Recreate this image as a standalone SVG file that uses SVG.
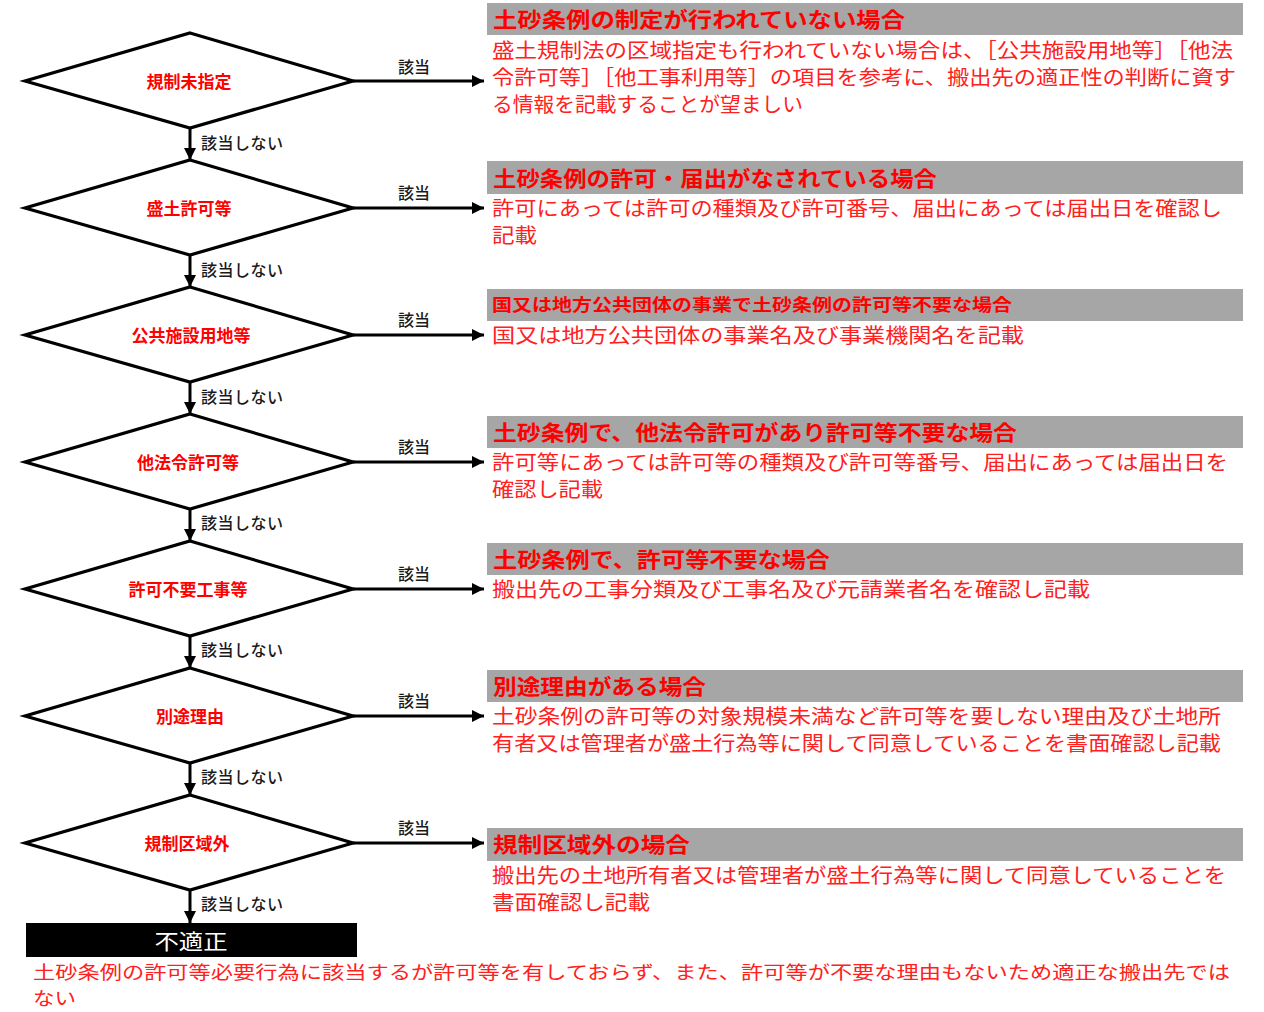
<svg xmlns="http://www.w3.org/2000/svg" width="1264" height="1012" viewBox="0 0 1264 1012">
<defs>
<marker id="ah" viewBox="0 0 10 10" refX="10" refY="5" markerWidth="4.2" markerHeight="4" markerUnits="strokeWidth" orient="auto">
<path d="M0,0 L10,5 L0,10 z" fill="#000"/>
</marker>
<style>
.dia{fill:#fff;stroke:#000;stroke-width:3.2;stroke-linejoin:miter}
.conn{stroke:#000;stroke-width:3;fill:none;marker-end:url(#ah)}
.dl{font-family:"Noto Sans CJK JP","Noto Sans",sans-serif;font-size:17px;font-weight:bold;fill:#ff0000;text-anchor:middle}
.lb{font-family:"Noto Sans CJK JP","Noto Sans",sans-serif;font-size:16px;font-weight:500;fill:#1a1a1a}
.bar{fill:#a6a6a6}
.hd{font-family:"Noto Sans CJK JP","Noto Sans",sans-serif;font-size:21px;font-weight:bold;fill:#ff0000}
.hs{font-family:"Noto Sans CJK JP","Noto Sans",sans-serif;font-size:17px;font-weight:bold;fill:#ff0000}
.bd{font-family:"Noto Sans CJK JP","Noto Sans",sans-serif;font-size:20px;fill:#ff2020}
.bt{font-family:"Noto Sans CJK JP","Noto Sans",sans-serif;font-size:18.5px;fill:#ff2020}
.ng{font-family:"Noto Sans CJK JP","Noto Sans",sans-serif;font-size:21px;fill:#fff;text-anchor:middle}
</style>
</defs>
<rect width="1264" height="1012" fill="#fff"/>

<g id="connectors">
<line class="conn" x1="353" y1="81" x2="484" y2="81"/>
<line class="conn" x1="353" y1="208" x2="484" y2="208"/>
<line class="conn" x1="353" y1="335" x2="484" y2="335"/>
<line class="conn" x1="353" y1="462" x2="484" y2="462"/>
<line class="conn" x1="353" y1="589" x2="484" y2="589"/>
<line class="conn" x1="353" y1="716" x2="484" y2="716"/>
<line class="conn" x1="353" y1="843" x2="484" y2="843"/>
<line class="conn" x1="190" y1="128" x2="190" y2="160"/>
<line class="conn" x1="190" y1="255" x2="190" y2="287"/>
<line class="conn" x1="190" y1="382" x2="190" y2="414"/>
<line class="conn" x1="190" y1="509" x2="190" y2="541"/>
<line class="conn" x1="190" y1="636" x2="190" y2="668"/>
<line class="conn" x1="190" y1="763" x2="190" y2="795"/>
<line class="conn" x1="190" y1="890" x2="190" y2="923"/>
<text class="lb" x="398" y="73">該当</text>
<text class="lb" x="398" y="199">該当</text>
<text class="lb" x="398" y="326">該当</text>
<text class="lb" x="398" y="453">該当</text>
<text class="lb" x="398" y="580">該当</text>
<text class="lb" x="398" y="707">該当</text>
<text class="lb" x="398" y="834">該当</text>
<text class="lb" x="201" y="149" textLength="82">該当しない</text>
<text class="lb" x="201" y="276" textLength="82">該当しない</text>
<text class="lb" x="201" y="403" textLength="82">該当しない</text>
<text class="lb" x="201" y="529" textLength="82">該当しない</text>
<text class="lb" x="201" y="656" textLength="82">該当しない</text>
<text class="lb" x="201" y="783" textLength="82">該当しない</text>
<text class="lb" x="201" y="910" textLength="82">該当しない</text>
</g>

<g id="d1"><polygon class="dia" points="190,33 353,81 190,128 25,81"/><text class="dl" x="189" y="88">規制未指定</text></g>
<g id="d2"><polygon class="dia" points="190,160 353,208 190,255 25,208"/><text class="dl" x="189" y="215">盛土許可等</text></g>
<g id="d3"><polygon class="dia" points="190,287 353,335 190,382 25,335"/><text class="dl" x="191" y="342">公共施設用地等</text></g>
<g id="d4"><polygon class="dia" points="190,414 353,462 190,509 25,462"/><text class="dl" x="188" y="469">他法令許可等</text></g>
<g id="d5"><polygon class="dia" points="190,541 353,589 190,636 25,589"/><text class="dl" x="188" y="596">許可不要工事等</text></g>
<g id="d6"><polygon class="dia" points="190,668 353,716 190,763 25,716"/><text class="dl" x="190" y="723">別途理由</text></g>
<g id="d7"><polygon class="dia" points="190,795 353,843 190,890 25,843"/><text class="dl" x="187" y="850">規制区域外</text></g>

<g id="r1">
<rect class="bar" x="487" y="3" width="756" height="32"/>
<text class="hd" x="493" y="27" textLength="412" lengthAdjust="spacingAndGlyphs">土砂条例の制定が行われていない場合</text>
<text class="bd" x="492" y="58" textLength="741" lengthAdjust="spacingAndGlyphs">盛土規制法の区域指定も行われていない場合は、［公共施設用地等］［他法</text>
<text class="bd" x="492" y="85" textLength="744" lengthAdjust="spacingAndGlyphs">令許可等］［他工事利用等］の項目を参考に、搬出先の適正性の判断に資す</text>
<text class="bd" x="492" y="112" textLength="311" lengthAdjust="spacingAndGlyphs">る情報を記載することが望ましい</text>
</g>
<g id="r2">
<rect class="bar" x="487" y="161" width="756" height="33"/>
<text class="hd" x="493" y="186" textLength="444" lengthAdjust="spacingAndGlyphs">土砂条例の許可・届出がなされている場合</text>
<text class="bd" x="492" y="216" textLength="730" lengthAdjust="spacingAndGlyphs">許可にあっては許可の種類及び許可番号、届出にあっては届出日を確認し</text>
<text class="bd" x="492" y="243" textLength="45" lengthAdjust="spacingAndGlyphs">記載</text>
</g>
<g id="r3">
<rect class="bar" x="487" y="289" width="756" height="32"/>
<text class="hs" x="492" y="311" textLength="520" lengthAdjust="spacingAndGlyphs">国又は地方公共団体の事業で土砂条例の許可等不要な場合</text>
<text class="bd" x="492" y="343" textLength="532" lengthAdjust="spacingAndGlyphs">国又は地方公共団体の事業名及び事業機関名を記載</text>
</g>
<g id="r4">
<rect class="bar" x="487" y="416" width="756" height="32"/>
<text class="hd" x="493" y="440" textLength="524" lengthAdjust="spacingAndGlyphs">土砂条例で、他法令許可があり許可等不要な場合</text>
<text class="bd" x="492" y="470" textLength="736" lengthAdjust="spacingAndGlyphs">許可等にあっては許可等の種類及び許可等番号、届出にあっては届出日を</text>
<text class="bd" x="492" y="497" textLength="111" lengthAdjust="spacingAndGlyphs">確認し記載</text>
</g>
<g id="r5">
<rect class="bar" x="487" y="543" width="756" height="32"/>
<text class="hd" x="493" y="567" textLength="337" lengthAdjust="spacingAndGlyphs">土砂条例で、許可等不要な場合</text>
<text class="bd" x="492" y="597" textLength="598" lengthAdjust="spacingAndGlyphs">搬出先の工事分類及び工事名及び元請業者名を確認し記載</text>
</g>
<g id="r6">
<rect class="bar" x="487" y="670" width="756" height="32"/>
<text class="hd" x="493" y="694" textLength="213" lengthAdjust="spacingAndGlyphs">別途理由がある場合</text>
<text class="bd" x="492" y="724" textLength="729" lengthAdjust="spacingAndGlyphs">土砂条例の許可等の対象規模未満など許可等を要しない理由及び土地所</text>
<text class="bd" x="492" y="751" textLength="729" lengthAdjust="spacingAndGlyphs">有者又は管理者が盛土行為等に関して同意していることを書面確認し記載</text>
</g>
<g id="r7">
<rect class="bar" x="487" y="828" width="756" height="33"/>
<text class="hd" x="493" y="852" textLength="197" lengthAdjust="spacingAndGlyphs">規制区域外の場合</text>
<text class="bd" x="492" y="883" textLength="734" lengthAdjust="spacingAndGlyphs">搬出先の土地所有者又は管理者が盛土行為等に関して同意していることを</text>
<text class="bd" x="492" y="910" textLength="158" lengthAdjust="spacingAndGlyphs">書面確認し記載</text>
</g>
<g id="ng">
<rect x="26" y="923" width="331" height="34" fill="#000"/>
<text class="ng" x="191" y="949" textLength="73" lengthAdjust="spacingAndGlyphs">不適正</text>
<text class="bt" x="33" y="979" textLength="1197" lengthAdjust="spacingAndGlyphs">土砂条例の許可等必要行為に該当するが許可等を有しておらず、また、許可等が不要な理由もないため適正な搬出先では</text>
<text class="bt" x="33" y="1005" textLength="43" lengthAdjust="spacingAndGlyphs">ない</text>
</g>
</svg>
